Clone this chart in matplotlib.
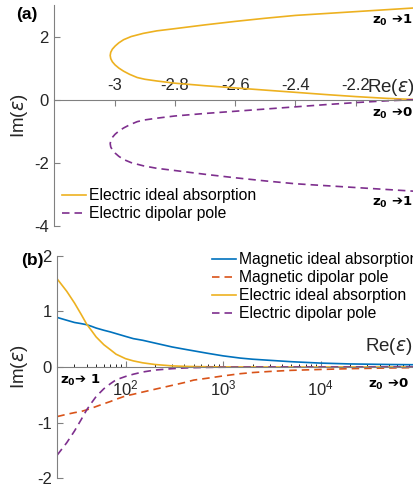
import numpy as np
import matplotlib.pyplot as plt

plt.rcParams['font.family'] = ['Liberation Sans', 'DejaVu Sans']
plt.rcParams['mathtext.fontset'] = 'dejavusans'
plt.rcParams['axes.unicode_minus'] = False

# MATLAB default line colours
c_blue = '#0072BD'
c_red = '#D95319'
c_yel = '#EDB120'
c_pur = '#7E2F8E'
txt = '#262626'
axc = '#808080'

# ---- panel (a): one curve in the complex eps plane, z0 running 0 -> 1
re_a = [-2.0, -2.1, -2.2, -2.3, -2.4, -2.5, -2.6, -2.7, -2.8, -2.86, -2.9,
        -2.925, -2.95, -2.97, -2.986, -2.9985, -3.0075, -3.0128, -3.0146,
        -3.0128, -3.0074, -2.998, -2.986, -2.97, -2.945, -2.905, -2.86, -2.8,
        -2.7, -2.6, -2.5, -2.4, -2.3, -2.2, -2.1, -2.0]
im_abs_a = [0.0, 0.04, 0.095, 0.16, 0.23, 0.30, 0.37, 0.44, 0.52, 0.59, 0.645,
            0.70, 0.80, 0.90, 1.00, 1.10, 1.20, 1.30, 1.40,
            1.50, 1.60, 1.70, 1.80, 1.90, 2.00, 2.10, 2.18, 2.25,
            2.37, 2.48, 2.58, 2.67, 2.73, 2.79, 2.85, 2.91]
im_pole_a = [0.0, -0.04, -0.095, -0.16, -0.23, -0.30, -0.37, -0.44, -0.52,
             -0.59, -0.645, -0.70, -0.80, -0.90, -1.00, -1.10, -1.20, -1.30,
             -1.40, -1.50, -1.60, -1.70, -1.80, -1.90, -2.00, -2.10, -2.18,
             -2.25, -2.37, -2.48, -2.58, -2.67, -2.73, -2.79, -2.85, -2.91]
xticks_a = [-3, -2.8, -2.6, -2.4, -2.2]
yticks_a = [-4, -2, 0, 2]

# ---- panel (b): Re(eps) on a log axis
re_b = [20, 25, 30, 35, 40, 45, 50, 60, 70, 80, 100, 120, 150, 200, 300, 400,
        500, 700, 1000, 1500, 2000, 3000, 5000, 1e4, 2e4, 5e4, 1e5]
im_mag_abs = [0.89, 0.84, 0.80, 0.78, 0.76, 0.73, 0.70, 0.66, 0.63, 0.60,
              0.55, 0.51, 0.48, 0.43, 0.36, 0.32, 0.29, 0.245, 0.20, 0.16,
              0.14, 0.12, 0.095, 0.07, 0.055, 0.045, 0.04]
im_mag_pole = [-0.89, -0.85, -0.82, -0.80, -0.77, -0.74, -0.71, -0.66, -0.62,
               -0.58, -0.52, -0.49, -0.45, -0.40, -0.33, -0.28, -0.235, -0.20,
               -0.16, -0.12, -0.10, -0.08, -0.06, -0.044, -0.03, -0.018, -0.01]
im_el_abs = [1.58, 1.36, 1.15, 0.95, 0.77, 0.65, 0.54, 0.40, 0.31, 0.23,
             0.15, 0.11, 0.075, 0.045, 0.02, 0.012, 0.008, 0.004, 0.002,
             0.001, 0, 0, 0, 0, 0, 0, 0]
im_el_pole = [-1.58, -1.36, -1.15, -0.95, -0.77, -0.64, -0.53, -0.39, -0.30,
              -0.23, -0.17, -0.13, -0.09, -0.055, -0.03, -0.018, -0.012,
              -0.007, -0.004, -0.002, -0.001, 0, 0, 0, 0, 0, 0]
xticks_b = [1e2, 1e3, 1e4]
yticks_b = [-2, -1, 0, 1, 2]

W, H = 413, 493
fig = plt.figure(figsize=(W / 100, H / 100), dpi=100)


def fx(px):
    return px / W


def fy(py):
    return 1 - py / H


def style_axes(ax):
    for s in ax.spines.values():
        s.set_color(axc)
        s.set_linewidth(0.8)
    ax.tick_params(colors=axc, labelcolor=txt, labelsize=12, width=0.8)


# ------------------------------------------------------------ (a)
ax1 = fig.add_axes([fx(54.3), fy(225.7), 361.8 / W, 220.7 / H])
ax1.plot(re_a, im_abs_a, color=c_yel, lw=1.2, label='Electric ideal absorption')
ax1.plot(re_a, im_pole_a, color=c_pur, lw=1.2, dashes=(4.5, 3),
         label='Electric dipolar pole')
ax1.set_xlim(-3.2, -2.0)
ax1.set_ylim(-4, 3)
style_axes(ax1)
ax1.spines['right'].set_visible(False)
ax1.spines['bottom'].set_visible(False)
ax1.spines['top'].set_position(('data', 0))
ax1.xaxis.tick_top()
ax1.set_xticks(xticks_a)
ax1.set_xticklabels(['%g' % v for v in xticks_a])
ax1.set_yticks(yticks_a)
ax1.tick_params(axis='x', direction='in', length=4, pad=5)
ax1.tick_params(axis='y', direction='in', length=4, pad=4)
ax1.text(-2.005, 0.37, r'Re($\epsilon$)', ha='right', va='center',
         fontsize=13.5, color=txt)
ax1.set_ylabel(r'Im($\epsilon$)', fontsize=13.5, color=txt)
ax1.yaxis.set_label_coords((30 - 54.3) / 361.8, 0.5)
ax1.legend(loc='upper left', bbox_to_anchor=(fx(62), fy(188)),
           bbox_transform=fig.transFigure, frameon=False, fontsize=11.3,
           handlelength=1.5, handletextpad=0.2, labelspacing=0.2,
           borderpad=0, borderaxespad=0)

zkw = dict(fontsize=9.5, fontweight='bold', color='black',
           family=['DejaVu Sans'])
ax1.text(-2.01, 2.5, r'$\mathbf{z_0}$ ➔1', ha='right', va='center', **zkw)
ax1.text(-2.01, -0.45, r'$\mathbf{z_0}$ ➔0', ha='right', va='center', **zkw)
ax1.text(-2.01, -3.27, r'$\mathbf{z_0}$ ➔1', ha='right', va='center', **zkw)

# ------------------------------------------------------------ (b)
ax2 = fig.add_axes([fx(57.3), fy(478.3), 361.1 / W, 222.6 / H])
ax2.plot(re_b, im_mag_abs, color=c_blue, lw=1.2, label='Magnetic ideal absorption')
ax2.plot(re_b, im_mag_pole, color=c_red, lw=1.2, dashes=(4.5, 3),
         label='Magnetic dipolar pole')
ax2.plot(re_b, im_el_abs, color=c_yel, lw=1.2, label='Electric ideal absorption')
ax2.plot(re_b, im_el_pole, color=c_pur, lw=1.2, dashes=(4.5, 3),
         label='Electric dipolar pole')
ax2.set_xscale('log')
ax2.set_xlim(20, 1e5)
ax2.set_ylim(-2, 2)
style_axes(ax2)
ax2.spines['right'].set_visible(False)
ax2.spines['top'].set_visible(False)
ax2.spines['bottom'].set_position(('data', 0))
ax2.set_xticks(xticks_b)
ax2.set_yticks(yticks_b)
ax2.tick_params(axis='x', which='both', direction='in', pad=8)
ax2.tick_params(axis='x', which='major', length=4)
ax2.tick_params(axis='x', which='minor', length=2.5, width=0.6)
ax2.tick_params(axis='y', direction='in', length=4, pad=4)
ax2.text(8.7e4, 0.36, r'Re($\epsilon$)', ha='right', va='center',
         fontsize=13.5, color=txt)
ax2.set_ylabel(r'Im($\epsilon$)', fontsize=13.5, color=txt)
ax2.yaxis.set_label_coords((30 - 57.3) / 361.1, 0.5)
ax2.legend(loc='upper left', bbox_to_anchor=(fx(212), fy(252)),
           bbox_transform=fig.transFigure, frameon=False, fontsize=11.3,
           handlelength=1.5, handletextpad=0.2, labelspacing=0.2,
           borderpad=0, borderaxespad=0)
ax2.text(21.3, -0.235, r'$\mathbf{z_0}$➔ 1', ha='left', va='center', **zkw)
ax2.text(8.0e4, -0.32, r'$\mathbf{z_0}$ ➔0', ha='right', va='center', **zkw)

fig.text(fx(16), fy(14), '(a)', fontsize=12.5, fontweight='bold', va='center')
fig.text(fx(21), fy(261), '(b)', fontsize=12.5, fontweight='bold', va='center')

fig.savefig('out.png', dpi=100)
